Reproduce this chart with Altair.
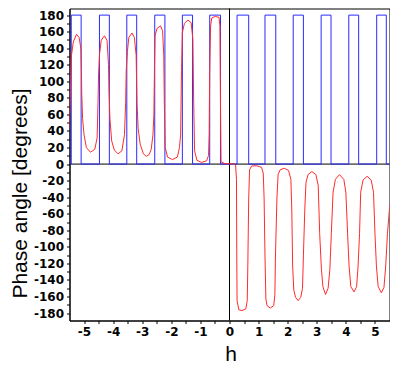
import altair as alt
import pandas as pd
import numpy as np

# Red curve: phase angle vs h
red_h = [-5.51, -5.48, -5.46, -5.43, -5.37, -5.26, -5.17, -5.11, -5.09, -5.08, -5.05, -5.00, -4.92,
         -4.78, -4.63, -4.55, -4.52, -4.50, -4.47, -4.41, -4.30, -4.21, -4.16, -4.14, -4.11, -4.05,
         -3.96, -3.83, -3.70, -3.61, -3.57, -3.55, -3.51, -3.46, -3.35, -3.27, -3.21, -3.18, -3.14,
         -3.07, -2.96, -2.86, -2.76, -2.69, -2.63, -2.60, -2.58, -2.56, -2.49, -2.37, -2.30, -2.26,
         -2.24, -2.21, -2.13, -1.96, -1.79, -1.72, -1.68, -1.65, -1.62, -1.55, -1.43, -1.32, -1.26,
         -1.23, -1.20, -1.12, -0.96, -0.79, -0.72, -0.70, -0.68, -0.65, -0.61, -0.49, -0.36, -0.33,
         -0.31, -0.29, -0.17, 0.16, 0.21, 0.24, 0.25, 0.26, 0.32, 0.43, 0.56, 0.61, 0.63, 0.66, 0.69,
         0.76, 0.93, 1.10, 1.16, 1.19, 1.22, 1.25, 1.29, 1.40, 1.52, 1.56, 1.58, 1.63, 1.67, 1.74,
         1.88, 2.03, 2.11, 2.14, 2.17, 2.21, 2.27, 2.36, 2.45, 2.51, 2.54, 2.59, 2.63, 2.70, 2.83,
         2.97, 3.05, 3.10, 3.16, 3.21, 3.30, 3.39, 3.45, 3.50, 3.56, 3.64, 3.78, 3.93, 4.00, 4.06,
         4.11, 4.17, 4.28, 4.37, 4.42, 4.47, 4.51, 4.59, 4.73, 4.87, 4.95, 5.00, 5.05, 5.11, 5.22,
         5.31, 5.37, 5.43, 5.51]
red_phase = [42, 74, 101, 132, 147.5, 156.8, 153, 140, 113, 86, 55, 35.6, 20,
             14.3, 18, 31.6, 74, 109, 132, 149.5, 155, 149.5, 120.5, 86, 55, 28,
             17, 12.4, 16, 35.6, 74, 113, 136, 153, 158.4, 153, 132, 74, 43,
             24, 12.4, 9.3, 11.6, 18, 36, 59, 113, 155, 164, 167, 161, 132,
             74, 20, 8.5, 5.4, 8.5, 20, 36, 113, 159, 170, 174, 171, 151,
             74, 16, 4.6, 2, 3.8, 10.4, 36, 113, 167, 176.5, 178.4, 177.3, 167,
             74, 2.7, 0.8, 0, -1.2, -18.5, -111, -165, -176, -177, -175, -165, -123, -42, -7,
             -2.3, -2, -3.9, -10.8, -42, -111, -163, -171, -174, -171, -157.6, -111, -42, -12.7, -7,
             -5, -7.7, -18.5, -53, -123, -152, -161, -165, -161, -150, -111, -53, -22, -12.7, -9,
             -12.7, -26, -84, -127, -148, -157.6, -150, -127, -84, -34, -18.5, -12.7, -18.5, -34, -84,
             -123, -148, -154.5, -148, -123, -84, -34, -19.3, -14.7, -19.3, -34, -84, -123, -148, -155.6,
             -149, -123, -84, -49]

# Blue square wave: h where it jumps up to 180 and back down to 0
blue_up = [-5.44, -4.47, -3.53, -2.57, -1.62, -0.68, 0.26, 1.22, 2.19, 3.15, 4.10, 5.06]
blue_down = [-5.10, -4.13, -3.19, -2.22, -1.27, -0.31, 0.66, 1.59, 2.54, 3.49, 4.44, 5.39]
blue_low = 0
blue_high = 180

x_domain = [-5.5, 5.5]
y_domain = [-189, 188]
x_ticks = [float(v) for v in np.arange(-5, 5.01, 0.5)]
y_ticks = [int(v) for v in np.arange(-180, 181, 10)]

red_df = pd.DataFrame({"h": red_h, "phase": red_phase, "i": range(len(red_h))})

bh, bp = [x_domain[0]], [blue_low]
for u, d in zip(blue_up, blue_down):
    bh += [u, u, d, d]
    bp += [blue_low, blue_high, blue_high, blue_low]
bh.append(x_domain[1])
bp.append(blue_low)
blue_df = pd.DataFrame({"h": bh, "phase": bp, "i": range(len(bh))})

x_axis = alt.Axis(
    values=x_ticks,
    labelExpr="datum.value % 1 == 0 ? '' + datum.value : ''",
    title="h",
    titleX=161,
    titleY=39.5,
    titleBaseline="alphabetic",
)
y_axis = alt.Axis(
    values=y_ticks,
    labelExpr="datum.value % 20 == 0 ? '' + datum.value : ''",
    title="Phase angle [degrees]",
    titleX=-43,
    titleY=184.5,
    titleAngle=270,
    titleBaseline="alphabetic",
    titleAlign="center",
)

x_enc = alt.X("h:Q", scale=alt.Scale(domain=x_domain, nice=False, zero=False), axis=x_axis)
y_enc = alt.Y("phase:Q", scale=alt.Scale(domain=y_domain, nice=False, zero=False), axis=y_axis)

zero_v = alt.Chart(pd.DataFrame({"h": [0]})).mark_rule(color="black", strokeWidth=1).encode(x=x_enc)
zero_h = alt.Chart(pd.DataFrame({"phase": [0]})).mark_rule(color="black", strokeWidth=1).encode(y=y_enc)

blue = alt.Chart(blue_df).mark_line(color="#2b2bff", strokeWidth=1, clip=True).encode(
    x=x_enc, y=y_enc, order="i:Q")
red = alt.Chart(red_df).mark_line(color="#ff2b2b", strokeWidth=1, clip=True).encode(
    x=x_enc, y=y_enc, order="i:Q")

chart = alt.layer(zero_v, zero_h, blue, red).properties(
    width=320,
    height=312,
    autosize=alt.AutoSizeParams(type="none"),
    padding={"left": 61.5, "top": 0.5, "right": 0.5, "bottom": 44.5},
    background="white",
).configure_view(
    stroke="black", strokeWidth=1
).configure_axis(
    grid=False,
    domainColor="black",
    tickColor="black",
    tickSize=3,
    labelColor="black",
    labelFont="DejaVu Sans",
    labelFontWeight="bold",
    labelFontSize=12,
    labelPadding=3,
    titleColor="black",
    titleFont="Liberation Sans",
    titleFontWeight="normal",
    titleFontSize=21,
)

chart.save("out.html", embed_options={"renderer": "svg", "actions": False})
